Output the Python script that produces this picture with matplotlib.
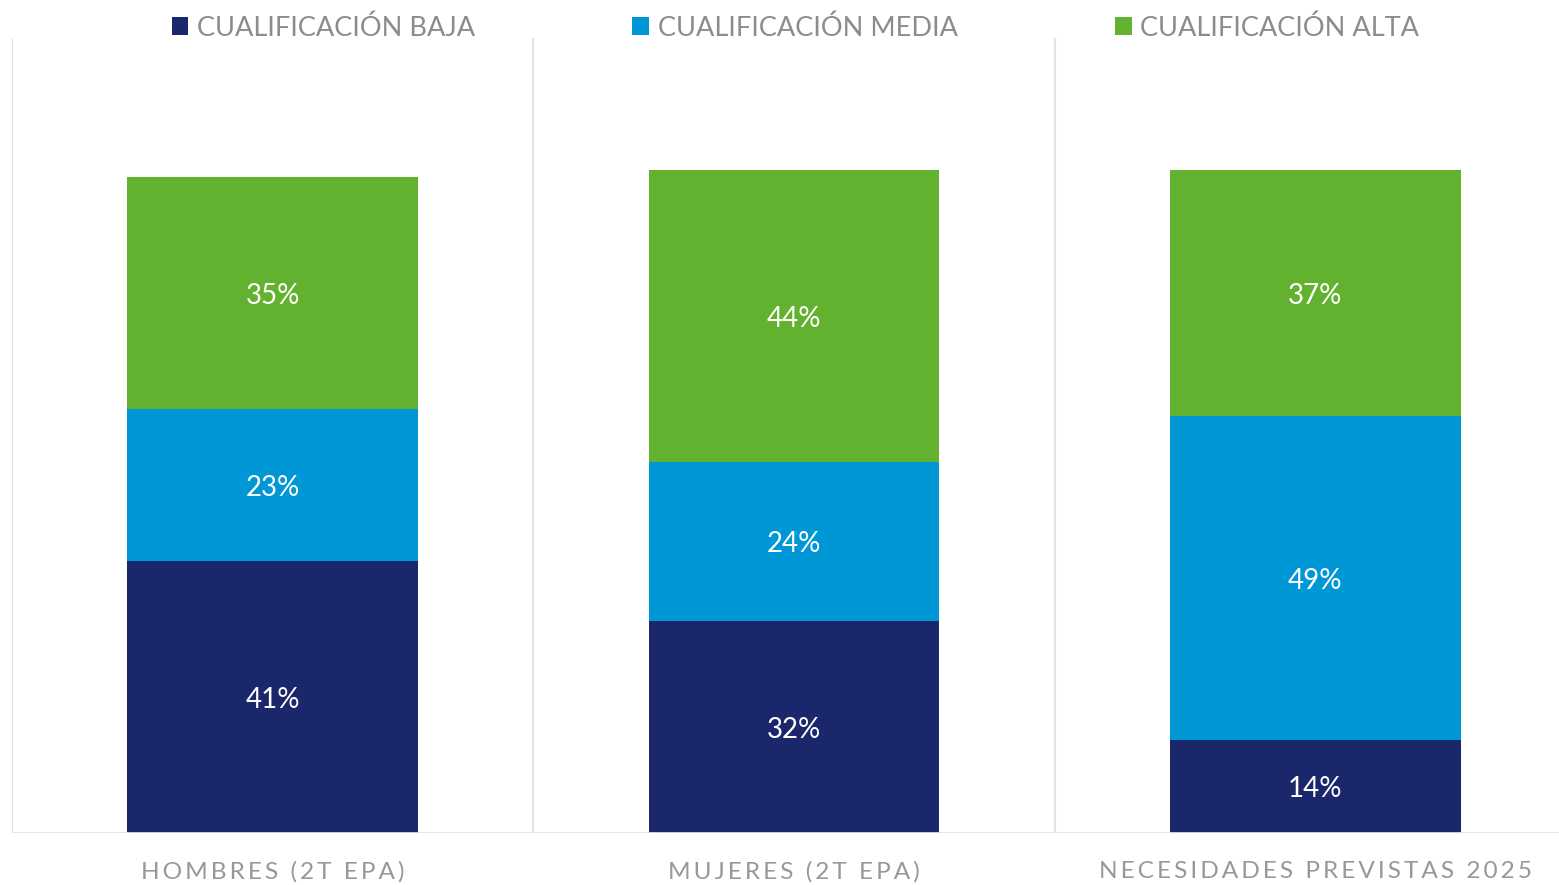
import matplotlib.pyplot as plt
from matplotlib.patches import Patch
import numpy as np

# datos
categorias = ['HOMBRES (2T EPA)', 'MUJERES (2T EPA)', 'NECESIDADES PREVISTAS 2025']
series = ['CUALIFICACIÓN BAJA', 'CUALIFICACIÓN MEDIA', 'CUALIFICACIÓN ALTA']
baja = [41, 32, 14]
media = [23, 24, 49]
alta = [35, 44, 37]
colores = ['#1B276B', '#0097D7', '#63B22F']

plt.rcParams['font.family'] = ['Lato', 'DejaVu Sans']

fig = plt.figure(figsize=(15.59, 8.85), dpi=100)
W, H = 1559, 885
# eje: izquierda 12px, base 833px, arriba 38px
ax = fig.add_axes([12 / W, (H - 833) / H, (W - 12) / W, (833 - 38) / H])

x = np.arange(len(categorias))
ancho = 0.557
abajo = np.zeros(len(categorias))
for vals, col in zip([baja, media, alta], colores):
    ax.bar(x, vals, ancho, bottom=abajo, color=col, zorder=3)
    for xi, v, b in zip(x, vals, abajo):
        ax.text(xi, b + v / 2 - 0.4, f'{v}%', ha='center', va='center',
                color='white', fontsize=20, zorder=4)
    abajo += np.array(vals)

ax.set_ylim(0, 120)
ax.set_xlim(-0.5, 2.5 - 17 / 522)

# separadores verticales entre categorías
for xs in [-0.5, 0.5, 1.5]:
    ax.axvline(xs, color='#E3E3E3', linewidth=1.5, zorder=1)
ax.axhline(0, color='#E3E3E3', linewidth=2, zorder=5)

for s in ax.spines.values():
    s.set_visible(False)
ax.set_yticks([])
ax.set_xticks(x)
# espaciado entre letras con espacio fino
etiquetas = ['\u2009'.join(c) for c in categorias]
ax.set_xticklabels(etiquetas, fontsize=17.6, color='#989898')
ax.tick_params(axis='x', length=0, pad=20)

handles = [Patch(facecolor=c, edgecolor='none') for c in colores]
fig.legend(handles, series, loc='center', bbox_to_anchor=(795.5 / W, 1 - 28 / H),
           ncol=3, frameon=False, fontsize=19.5, labelcolor='#8C8C8C',
           handlelength=0.62, handleheight=0.62, handletextpad=0.32,
           columnspacing=5.8, borderpad=0)

fig.savefig('out.png', dpi=100)
